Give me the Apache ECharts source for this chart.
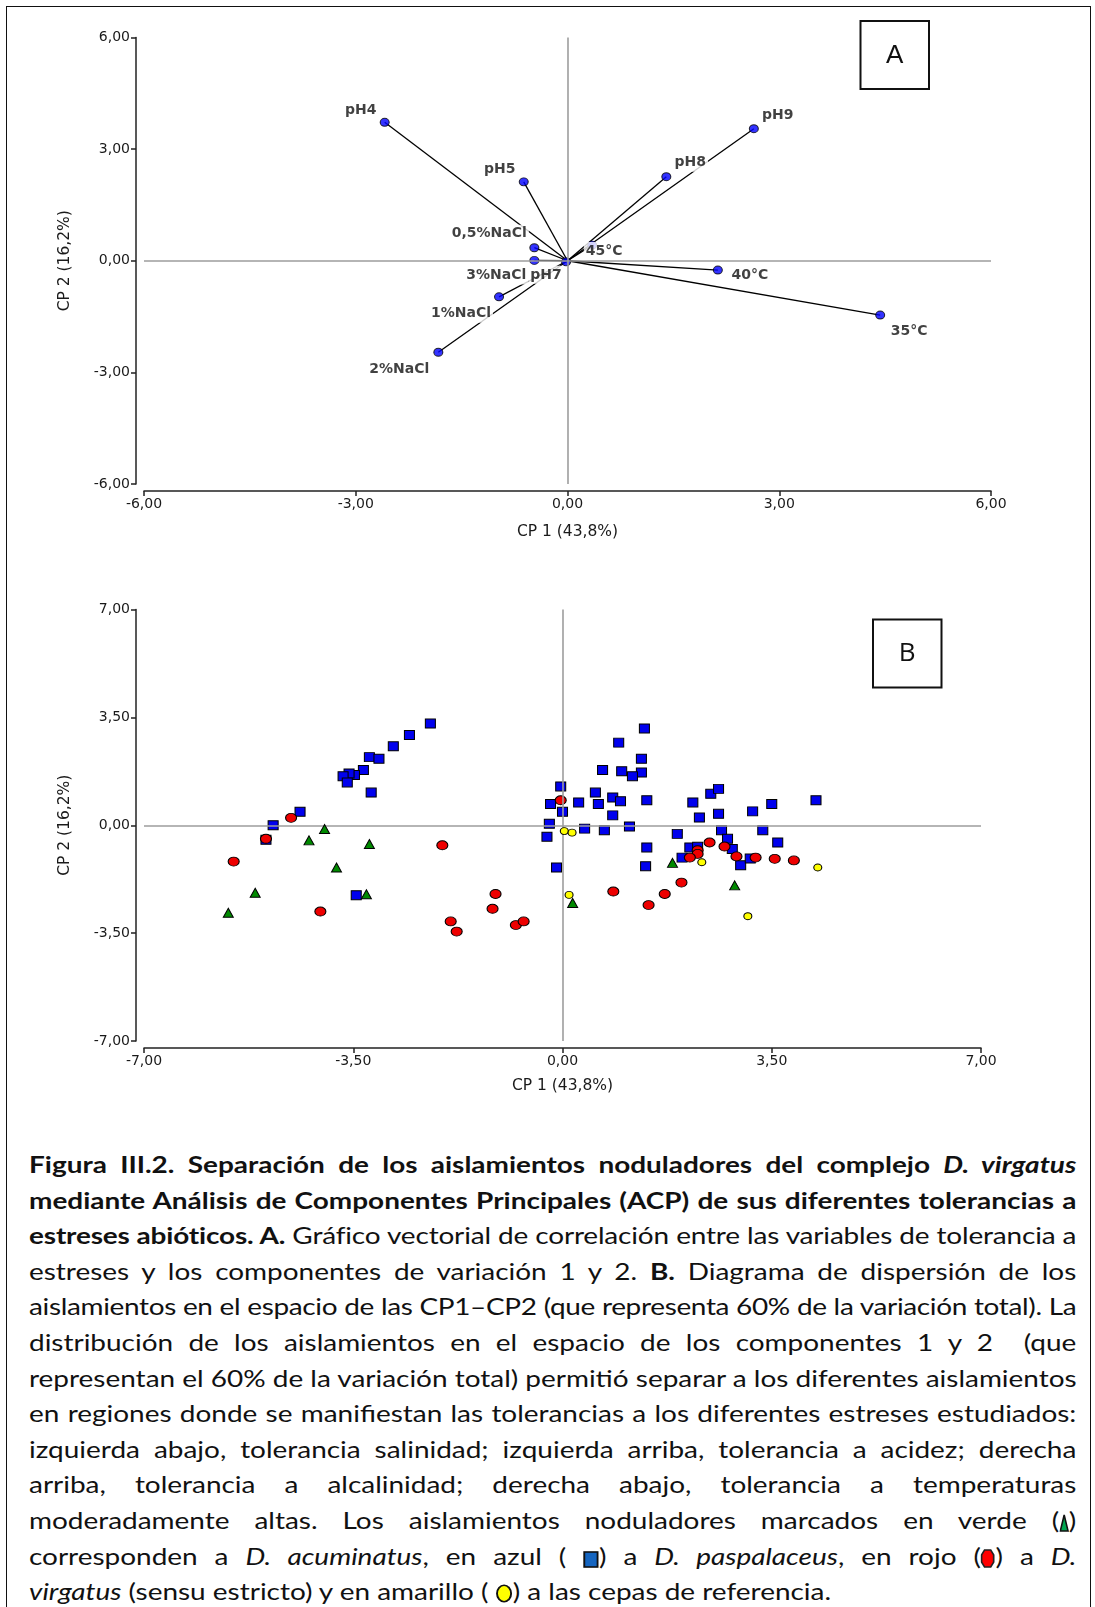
<!DOCTYPE html>
<html><head><meta charset="utf-8">
<script src="https://cdn.jsdelivr.net/npm/echarts/dist/echarts.min.js"></script>
<style>
html,body{margin:0;padding:0;background:#fff;width:1095px;height:1607px;overflow:hidden;}
#frame{position:absolute;left:6px;top:6px;width:1085px;height:1700px;border:1.5px solid #111;box-sizing:border-box;}
#chart{position:absolute;left:0;top:0;width:1095px;height:1110px;}
#caption{position:absolute;left:29px;top:1147px;width:862px;transform:scaleX(1.215);transform-origin:0 0;font-family:Lato,"Open Sans",sans-serif;font-size:23px;line-height:35.6px;color:#111;}
#caption .l{text-align:justify;text-align-last:justify;white-space:nowrap;}
#caption .last{text-align:left;text-align-last:left;white-space:nowrap;}
#caption svg{vertical-align:-3px;}
</style></head>
<body>
<div id="frame"></div>
<div id="chart"></div>
<div id="caption">
<div class="l"><b>Figura III.2. Separación de los aislamientos noduladores del complejo <i>D. virgatus</i></b></div>
<div class="l"><b>mediante Análisis de Componentes Principales (ACP) de sus diferentes tolerancias a</b></div>
<div class="l"><b>estreses abióticos. A.</b> Gráfico vectorial de correlación entre las variables de tolerancia a</div>
<div class="l">estreses y los componentes de variación 1 y 2. <b>B.</b> Diagrama de dispersión de los</div>
<div class="l">aislamientos en el espacio de las CP1–CP2 (que representa 60% de la variación total). La</div>
<div class="l">distribución de los aislamientos en el espacio de los componentes 1 y 2 &nbsp;(que</div>
<div class="l">representan el 60% de la variación total) permitió separar a los diferentes aislamientos</div>
<div class="l">en regiones donde se manifiestan las tolerancias a los diferentes estreses estudiados:</div>
<div class="l">izquierda abajo, tolerancia salinidad; izquierda arriba, tolerancia a acidez; derecha</div>
<div class="l">arriba, tolerancia a alcalinidad; derecha abajo, tolerancia a temperaturas</div>
<div class="l">moderadamente altas. Los aislamientos noduladores marcados en verde (<svg width="8" height="18" viewBox="0 0 8 18"><polygon points="4,1 7.2,17 0.8,17" fill="#00a651" stroke="#111" stroke-width="1.3"/></svg>)</div>
<div class="l">corresponden a <i>D. acuminatus</i>, en azul ( <svg width="13" height="17" viewBox="0 0 13 17"><rect x="1" y="1" width="11" height="15" fill="#1565c0" stroke="#111" stroke-width="1.6"/></svg>) a <i>D. paspalaceus</i>, en rojo (<svg width="12" height="19" viewBox="0 0 12 19"><polygon points="3.5,1 8.5,1 11,6 11,13 8.5,18 3.5,18 1,13 1,6" fill="#ff0000" stroke="#222" stroke-width="1.4"/></svg>) a <i>D.</i></div>
<div class="last"><i>virgatus</i> (sensu estricto) y en amarillo ( <svg width="14" height="19" viewBox="0 0 14 19"><ellipse cx="7" cy="9.5" rx="5.8" ry="8.2" fill="#ffff00" stroke="#111" stroke-width="1.6"/></svg>) a las cepas de referencia.</div>
</div>
<script>
// ---------- Panel A : variable vectors ----------
const varNames = ['pH4', 'pH5', '0,5%NaCl', '3%NaCl', 'pH7', '1%NaCl', '2%NaCl', '45°C', 'pH8', 'pH9', '40°C', '35°C'];
const varCP1   = [-2.59, -0.62, -0.47, -0.47, -0.02, -0.97, -1.83, 0.35, 1.40, 2.64, 2.13, 4.43];
const varCP2   = [ 3.72,  2.12,  0.35,  0.01, -0.03, -0.97, -2.46, 0.42, 2.26, 3.55, -0.25, -1.46];

// ---------- Panel B : isolates scores ----------
const acuminatus = [[-3.98,-0.12],[-4.24,-0.49],[-3.23,-0.61],[-3.78,-1.37],[-5.14,-2.19],[-3.28,-2.24],[-5.59,-2.84],[0.17,-2.52],[1.84,-1.22],[2.88,-1.95]];
const paspalaceus = [[-2.21,3.30],[-2.56,2.93],[-2.83,2.56],[-3.23,2.21],[-3.07,2.16],[-3.33,1.79],[-3.48,1.63],[-3.57,1.68],[-3.67,1.59],[-3.60,1.39],[-3.20,1.06],[-4.39,0.44],[-4.84,0.00],[-3.45,-2.27],[-4.96,-0.47],
  [-0.03,1.26],[-0.20,0.69],[0.00,0.44],[-0.22,0.05],[-0.26,-0.37],[-0.10,-1.37],
  [1.37,3.14],[0.94,2.68],[1.32,2.16],[0.67,1.79],[0.99,1.75],[1.32,1.71],[1.17,1.59],[0.55,1.06],[0.27,0.74],[0.60,0.69],[0.84,0.90],[0.97,0.78],[1.41,0.81],[0.84,0.32],[0.37,-0.11],[0.70,-0.16],[1.12,-0.04],[1.41,-0.72],[1.39,-1.33],
  [1.92,-0.28],[2.18,0.74],[2.29,0.25],[2.48,1.02],[2.61,1.18],[2.61,0.37],[2.66,-0.16],[2.76,-0.44],[2.84,-0.77],[2.98,-1.30],[2.13,-0.72],[2.26,-0.70],[2.00,-1.05],[3.18,0.45],[3.14,-1.08],[3.35,-0.16],[3.50,0.69],[3.60,-0.56],[4.24,0.81]];
const virgatus = [[-4.54,0.24],[-4.96,-0.44],[-5.50,-1.18],[-4.05,-2.80],[-2.01,-0.65],[-1.12,-2.23],[-1.17,-2.71],[-1.87,-3.12],[-1.77,-3.45],[-0.78,-3.24],[-0.65,-3.12],[-0.03,0.81],
  [2.46,-0.56],[2.71,-0.69],[2.26,-0.81],[2.26,-0.93],[2.13,-1.05],[2.91,-1.01],[3.23,-1.05],[3.55,-1.09],[3.87,-1.14],[1.99,-1.86],[1.71,-2.23],[1.44,-2.59],[0.85,-2.15]];
const reference = [[0.03,-0.19],[0.16,-0.24],[0.11,-2.26],[2.33,-1.20],[4.27,-1.37],[3.10,-2.95]];

// axis ticks
const ticksA = [-6, 6, 3];
const ticksB = [-7, 7, 3.5];
const axisTitleX = 'CP 1 (43,8%)';
const axisTitleY = 'CP 2 (16,2%)';

// label placement (styling only)
const labelOffset = {
  'pH4': [-24, -12], 'pH5': [-24, -13], '0,5%NaCl': [-45, -14], '3%NaCl': [-38, 15], 'pH7': [-20, 13],
  '1%NaCl': [-38, 17], '2%NaCl': [-39, 17], '45°C': [12, 6], 'pH8': [24, -14], 'pH9': [24, -13],
  '40°C': [32, 5], '35°C': [29, 16]
};

// keep justified lines within the box
document.querySelectorAll('#caption .l').forEach(el => {
  const over = el.scrollWidth - el.clientWidth;
  if (over > 0) {
    const n = el.textContent.length;
    el.style.letterSpacing = (-(over + 2) / n).toFixed(3) + 'px';
  }
});

const fmt = v => v.toFixed(2).replace('.', ',');
const FONT = 'DejaVu Sans';

function axis(grid, t, name, isY, gap) {
  return {
    gridIndex: grid, type: 'value', min: t[0], max: t[1], interval: t[2],
    offset: isY ? 8 : 7,
    name: name, nameLocation: 'middle', nameGap: gap, nameRotate: isY ? 90 : 0,
    nameTextStyle: { fontFamily: FONT, fontSize: 15.5, color: '#1a1a1a' },
    axisLine: { show: true, onZero: false, lineStyle: { color: '#222', width: 1.5 } },
    axisTick: { show: true, length: 5, lineStyle: { color: '#222', width: 1.5 } },
    axisLabel: { formatter: fmt, margin: 6, fontFamily: FONT, fontSize: 14, color: '#1a1a1a', showMinLabel: true, showMaxLabel: true },
    splitLine: { show: false }
  };
}

function refLines(xi, yi) {
  return {
    type: 'line', xAxisIndex: xi, yAxisIndex: yi, data: [], silent: true, z: 1,
    markLine: {
      silent: true, symbol: ['none', 'none'], label: { show: false },
      lineStyle: { color: '#9d9d9d', width: 1.6, type: 'solid' },
      data: [{ xAxis: 0 }, { yAxis: 0 }]
    }
  };
}

function scat(data, symbol, size, color, z) {
  return {
    type: 'scatter', xAxisIndex: 1, yAxisIndex: 1, data: data, symbol: symbol, symbolSize: size, z: z,
    itemStyle: { color: color, borderColor: '#000', borderWidth: 1, opacity: 1 },
    emphasis: { disabled: true }, silent: true
  };
}

const chart = echarts.init(document.getElementById('chart'), null, { renderer: 'canvas' });
chart.setOption({
  animation: false,
  backgroundColor: 'transparent',
  grid: [
    { left: 144, top: 37.5, width: 847, height: 446.5 },
    { left: 144, top: 609.5, width: 837, height: 431.5 }
  ],
  xAxis: [axis(0, ticksA, axisTitleX, false, 33), axis(1, ticksB, axisTitleX, false, 30)],
  yAxis: [axis(0, ticksA, axisTitleY, true, 63), axis(1, ticksB, axisTitleY, true, 63)],
  graphic: [
    { type: 'rect', shape: { x: 860.5, y: 21, width: 68.5, height: 68 }, style: { fill: '#fff', stroke: '#111', lineWidth: 2 }, z: 10 },
    { type: 'text', x: 894.7, y: 55.5, style: { text: 'A', font: '26px "Liberation Sans"', fill: '#111', align: 'center', verticalAlign: 'middle' }, z: 11 },
    { type: 'rect', shape: { x: 873, y: 619.5, width: 68.5, height: 68 }, style: { fill: '#fff', stroke: '#111', lineWidth: 2 }, z: 10 },
    { type: 'text', x: 907.2, y: 653.5, style: { text: 'B', font: '26px "Open Sans"', fill: '#111', align: 'center', verticalAlign: 'middle' }, z: 11 }
  ],
  series: [
    refLines(0, 0),
    {
      type: 'lines', coordinateSystem: 'cartesian2d', xAxisIndex: 0, yAxisIndex: 0, z: 2, silent: true,
      lineStyle: { color: '#000', width: 1.3, opacity: 1, curveness: 0 },
      data: varNames.map((n, i) => ({ coords: [[0, 0], [varCP1[i], varCP2[i]]] }))
    },
    {
      type: 'scatter', xAxisIndex: 0, yAxisIndex: 0, z: 3, silent: true,
      symbol: 'circle', symbolSize: [9, 8],
      itemStyle: { color: '#0000ff', borderColor: '#000', borderWidth: 1 },
      label: {
        show: true, position: 'inside', formatter: '{b}', fontFamily: FONT, fontWeight: 'bold', fontSize: 14,
        color: '#111', backgroundColor: '#fff', padding: [2, 2], textBorderWidth: 0
      },
      data: varNames.map((n, i) => ({ name: n, value: [varCP1[i], varCP2[i]], label: { offset: labelOffset[n] } }))
    },
    refLines(1, 1),
    scat(paspalaceus, 'rect', [10, 9], '#0000ee', 3),
    scat(virgatus, 'circle', [11, 9], '#ee0000', 4),
    scat(acuminatus, 'triangle', [10, 9], '#008a00', 5),
    scat(reference, 'circle', [8, 7], '#ffff00', 6)
  ]
});
</script>
</body></html>
